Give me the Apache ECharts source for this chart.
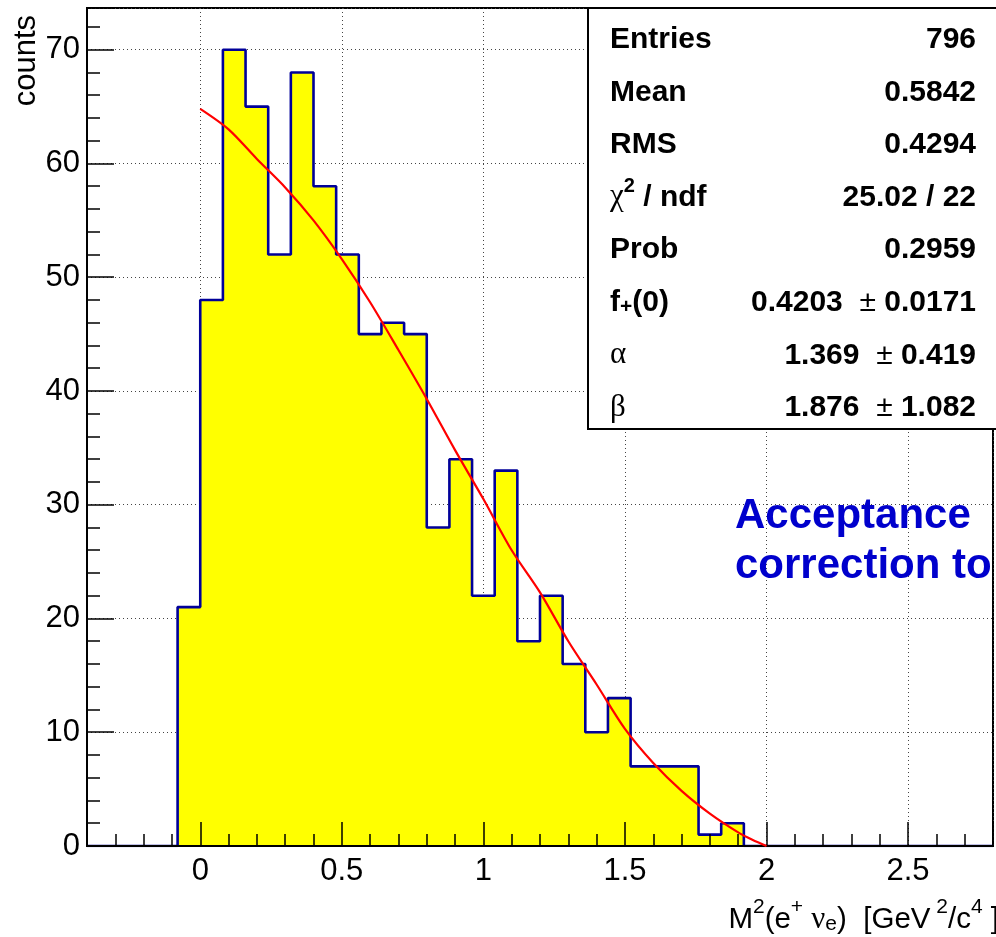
<!DOCTYPE html>
<html>
<head>
<meta charset="utf-8">
<script src="https://cdn.jsdelivr.net/npm/echarts@6/dist/echarts.min.js"></script>
<style>
  html, body { margin: 0; padding: 0; background: #fff; }
  #chart { width: 996px; height: 937px; }
</style>
</head>
<body>
<div id="chart"></div>
<script>
// Histogram binning: 40 bins of 0.08 from -0.4 to 2.8
const histMin = -0.4;
const histMax = 2.8;
const nBins = 40;
const counts = [
  0, 0, 0, 0,
  21, 48, 70, 65, 52, 68, 58, 52, 45, 46, 45, 28, 34, 22, 33, 18, 22, 16, 10, 13, 7, 7, 7, 1, 2,
  0, 0, 0, 0, 0, 0, 0, 0, 0, 0, 0
];

// Fitted curve (red)
const fitX = [0, 0.1, 0.2, 0.3, 0.4, 0.5, 0.6, 0.7, 0.8, 0.9, 1.0, 1.1, 1.2, 1.3, 1.4, 1.5, 1.6, 1.7, 1.8, 1.9, 1.95, 2.0];
const fitY = [64.8, 63.0, 60.4, 57.9, 55.0, 51.6, 47.8, 43.6, 39.3, 34.8, 30.5, 26.0, 22.3, 18.0, 14.2, 10.3, 7.3, 4.85, 2.85, 1.2, 0.55, 0];

// Statistics box rows
const statLabels = [
  '{b|Entries}',
  '{b|Mean}',
  '{b|RMS}',
  '{g|χ}{bsup|2}{b| / ndf}',
  '{b|Prob}',
  '{b|f}{bsub|+}{b|(0)}',
  '{g|α}',
  '{g|β}'
];
const statValues = [
  '{b|796}',
  '{b|0.5842}',
  '{b|0.4294}',
  '{b|25.02 / 22}',
  '{b|0.2959}',
  '{b|0.4203  }{pm|±}{b| 0.0171}',
  '{b|1.369  }{pm|±}{b| 0.419}',
  '{b|1.876  }{pm|±}{b| 1.082}'
];

const xTitle = '{n|M}{sup|2}{n|(e}{sup|+}{n| }{g|ν}{sub|e}{n|)  [GeV}{sup| 2}{n|/c}{sup|4}{n| ]}';
const yTitle = 'counts';
const noteLines = ['Acceptance', 'correction to'];

const SANS = '"Liberation Sans", Arial, Helvetica, sans-serif';
const SERIF = '"Liberation Serif", "DejaVu Serif", serif';

const binWidth = (histMax - histMin) / nBins;
const histPoints = counts.map((c, k) => [histMin + k * binWidth, c]);
histPoints.push([histMax, counts[nBins - 1]]);
const fitPoints = fitX.map((x, i) => [x, fitY[i]]);

function majorOnly(step) {
  return function (v) {
    const r = v / step;
    if (Math.abs(r - Math.round(r)) > 1e-6) return '';
    return String(Math.round(v * 100) / 100);
  };
}

const labelFont = { fontFamily: SANS, fontSize: 31, color: '#000' };

const statRich = {
  b: { fontFamily: SANS, fontWeight: 'bold', fontSize: 30, lineHeight: 36, fill: '#000', verticalAlign: 'bottom' },
  g: { fontFamily: SERIF, fontSize: 31, lineHeight: 36, fill: '#000', verticalAlign: 'bottom' },
  pm: { fontFamily: SANS, fontSize: 30, lineHeight: 36, fill: '#000', verticalAlign: 'bottom' },
  bsup: { fontFamily: SANS, fontWeight: 'bold', fontSize: 20, lineHeight: 24, fill: '#000', verticalAlign: 'top' },
  bsub: { fontFamily: SANS, fontWeight: 'bold', fontSize: 21, lineHeight: 21, fill: '#000', verticalAlign: 'bottom' }
};

const rowTop = 36.7, rowStep = 52.6;
const statGraphics = [{
  type: 'rect', z: 100,
  shape: { x: 588, y: 8, width: 430, height: 421 },
  style: { fill: '#fff', stroke: '#000', lineWidth: 2 }
}];
statLabels.forEach((t, i) => {
  statGraphics.push({
    type: 'text', z: 101, x: 610, y: rowTop + i * rowStep,
    style: { text: t, rich: statRich, align: 'left', verticalAlign: 'middle' }
  });
});
statValues.forEach((t, i) => {
  statGraphics.push({
    type: 'text', z: 101, x: 976, y: rowTop + i * rowStep,
    style: { text: t, rich: statRich, align: 'right', verticalAlign: 'middle' }
  });
});

const titleRich = {
  n: { fontFamily: SANS, fontSize: 29.5, lineHeight: 38, fill: '#000', verticalAlign: 'bottom' },
  g: { fontFamily: SERIF, fontSize: 31, lineHeight: 38, fill: '#000', verticalAlign: 'bottom' },
  sup: { fontFamily: SANS, fontSize: 21, lineHeight: 27, fill: '#000', verticalAlign: 'top' },
  sub: { fontFamily: SANS, fontSize: 21, lineHeight: 17, fill: '#000', verticalAlign: 'bottom' }
};

const chart = echarts.init(document.getElementById('chart'), null, { renderer: 'canvas' });

chart.setOption({
  animation: false,
  backgroundColor: '#fff',
  grid: { left: 87, right: -3, top: 8, bottom: 91, show: true, borderColor: '#000', borderWidth: 2, backgroundColor: 'transparent' },
  xAxis: [
    {
      type: 'value', min: histMin, max: histMax, minInterval: 0.5, maxInterval: 0.5, splitNumber: 6,
      position: 'bottom', z: 0,
      axisLine: { show: false }, axisTick: { show: false }, axisLabel: { show: false },
      splitLine: { show: true, lineStyle: { color: '#444', width: 1, type: [1, 3] } }
    },
    {
      type: 'value', min: histMin, max: histMax, minInterval: 0.5, maxInterval: 0.5, splitNumber: 6,
      position: 'bottom', z: 5,
      axisLine: { show: true, onZero: false, lineStyle: { color: '#000', width: 2 } },
      axisTick: { show: true, inside: true, length: 24, lineStyle: { color: '#000', width: 1.5 } },
      minorTick: { show: true, splitNumber: 5, length: 12, lineStyle: { color: '#000', width: 1.5 } },
      axisLabel: Object.assign({ margin: 10, formatter: majorOnly(0.5) }, labelFont),
      splitLine: { show: false }
    }
  ],
  yAxis: [
    {
      type: 'value', min: 0, max: 73.67, minInterval: 10, maxInterval: 10, splitNumber: 7,
      position: 'left', z: 0,
      axisLine: { show: false }, axisTick: { show: false }, axisLabel: { show: false },
      splitLine: { show: true, lineStyle: { color: '#444', width: 1, type: [1, 3] } }
    },
    {
      type: 'value', min: 0, max: 73.67, minInterval: 10, maxInterval: 10, splitNumber: 7,
      position: 'left', z: 5,
      axisLine: { show: true, onZero: false, lineStyle: { color: '#000', width: 2 } },
      axisTick: { show: true, inside: true, length: 27, lineStyle: { color: '#000', width: 1.5 } },
      minorTick: { show: true, splitNumber: 5, length: 13, lineStyle: { color: '#000', width: 1.5 } },
      axisLabel: Object.assign({ margin: 7, formatter: majorOnly(10) }, labelFont),
      splitLine: { show: false }
    }
  ],
  series: [
    {
      name: 'histogram', type: 'line', xAxisIndex: 0, yAxisIndex: 0,
      data: histPoints, step: 'end', symbol: 'none', z: 2,
      lineStyle: { color: '#000099', width: 2.6 },
      areaStyle: { color: '#ffff00', opacity: 1 }
    },
    {
      name: 'fit', type: 'line', xAxisIndex: 0, yAxisIndex: 0,
      data: fitPoints, smooth: 0.3, symbol: 'none', z: 6,
      lineStyle: { color: '#ff0000', width: 2.2 }
    }
  ],
  graphic: [
    {
      type: 'text', x: 26, y: 15, rotation: Math.PI / 2,
      style: { text: yTitle, fontFamily: SANS, fontSize: 31, fill: '#000', align: 'right', verticalAlign: 'middle' }
    },
    {
      type: 'text', x: 999, y: 916,
      style: { text: xTitle, rich: titleRich, align: 'right', verticalAlign: 'middle' }
    },
    {
      type: 'text', x: 735, y: 516, z: 50,
      style: { text: noteLines[0], fontFamily: SANS, fontWeight: 'bold', fontSize: 42, fill: '#0000cc', align: 'left', verticalAlign: 'middle' }
    },
    {
      type: 'text', x: 735, y: 566, z: 50,
      style: { text: noteLines[1], fontFamily: SANS, fontWeight: 'bold', fontSize: 42, fill: '#0000cc', align: 'left', verticalAlign: 'middle' }
    }
  ].concat(statGraphics)
});
</script>
</body>
</html>
